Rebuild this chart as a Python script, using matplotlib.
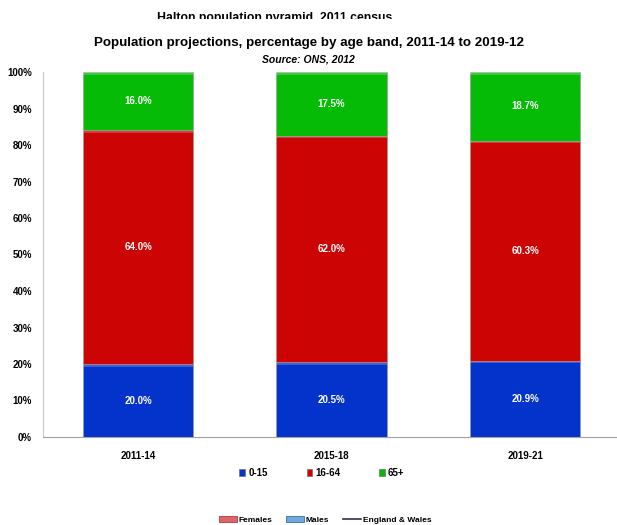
import matplotlib.pyplot as plt
from matplotlib.patches import Rectangle, Patch
from matplotlib.lines import Line2D
import numpy as np

plt.rcParams['font.family'] = ['Liberation Sans', 'DejaVu Sans']

# Data
periods = ["2011-14", "2015-18", "2019-21"]
age_0_15 = [20.0, 20.5, 20.9]
age_16_64 = [64.0, 62.0, 60.3]
age_65_plus = [16.0, 17.5, 18.7]
series_names = ["0-15", "16-64", "65+"]
colors = ["#0433cc", "#cc0404", "#05bb05"]
yticks = np.arange(0, 101, 10)

fig = plt.figure(figsize=(6.17, 5.25), dpi=100)
ax = fig.add_axes([43 / 617, 88 / 525, 574 / 617, 365 / 525])

x = np.arange(len(periods))
width = 0.57
bottom = np.zeros(len(periods))
for vals, col, name in zip([age_0_15, age_16_64, age_65_plus], colors, series_names):
    vals = np.array(vals)
    ax.bar(x, vals, width, bottom=bottom, color=col, edgecolor="#9a9a9a",
           linewidth=0.4, label=name)
    # lighter strip on top of each segment
    ax.bar(x, 0.7, width, bottom=bottom + vals - 0.7, color="white", alpha=0.22,
           linewidth=0)
    for xi, b, v in zip(x, bottom, vals):
        ax.text(xi, b + v / 2, f"{v:.1f}%", ha="center", va="center",
                color="white", fontsize=7, fontweight="bold")
    bottom += vals

ax.set_xlim(-0.491, 2.475)
ax.set_ylim(0, 100)
ax.set_yticks(yticks)
ax.set_yticklabels([f"{t}%" for t in yticks], fontsize=7, fontweight="bold")
ax.set_xticks(x)
ax.set_xticklabels(periods, fontsize=7, fontweight="bold")
ax.tick_params(axis="both", length=0, pad=8)
ax.tick_params(axis="x", pad=10)
for s in ["top", "right"]:
    ax.spines[s].set_visible(False)
ax.spines["left"].set_color("#c8c8c8")
ax.spines["bottom"].set_color("#a0a0a0")

# titles (old title of the chart underneath, half hidden)
fig.text(0.445, 1 - 18 / 525, "Halton population pyramid, 2011 census", ha="center",
         va="center", fontsize=8.8, fontweight="bold")
fig.patches.append(Rectangle((0, 1 - 60.5 / 525), 1, 41 / 525, transform=fig.transFigure,
                             facecolor="white", edgecolor="none", zorder=5))
fig.text(0.5, 1 - 43 / 525, "Population projections, percentage by age band, 2011-14 to 2019-12",
         ha="center", va="center", fontsize=9.6, fontweight="bold", zorder=6)
fig.text(0.5, 1 - 60 / 525, "Source: ONS, 2012", ha="center", va="center",
         fontsize=7.5, fontweight="bold", style="italic", zorder=6)

# series legend
handles = [Patch(facecolor=c, edgecolor="#707070", linewidth=0.5) for c in colors]
fig.legend(handles, series_names, loc="center", bbox_to_anchor=(322 / 617, 1 - 473 / 525),
           ncol=3, frameon=False, prop={"weight": "bold", "size": 7},
           handlelength=0.6, handleheight=0.6, handletextpad=0.3, columnspacing=4.0)

# leftover legend from the pyramid chart behind
old_handles = [Patch(facecolor="#e06666", edgecolor="#a04040", linewidth=0.6),
               Patch(facecolor="#6fa8dc", edgecolor="#3d6f9f", linewidth=0.6),
               Line2D([0], [0], color="#3a2a5a", linewidth=1.2)]
fig.legend(old_handles, ["Females", "Males", "England & Wales"], loc="center",
           bbox_to_anchor=(325 / 617, 1 - 520 / 525), ncol=3, frameon=False,
           prop={"weight": "bold", "size": 6}, handlelength=2.2, handleheight=0.8,
           handletextpad=0.2, columnspacing=1.6)

fig.savefig("out.png", dpi=100)
